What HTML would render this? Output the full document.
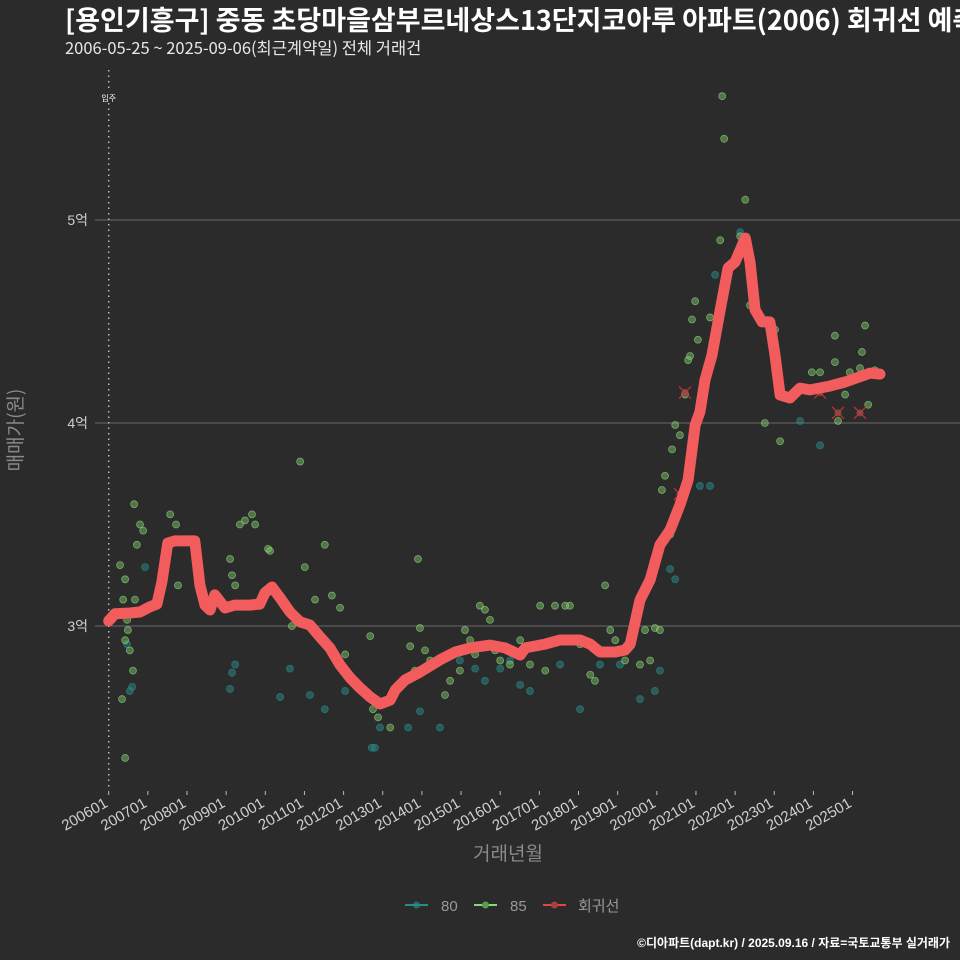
<!DOCTYPE html>
<html><head><meta charset="utf-8">
<style>
html,body{margin:0;padding:0;background:#2b2b2b;}
svg{display:block;font-family:"Liberation Sans","Noto Sans CJK KR",sans-serif;}
</style></head>
<body>
<svg id="chart" width="960" height="960" viewBox="0 0 960 960">
<rect width="960" height="960" fill="#2b2b2b"/>
<text x="65" y="30" fill="#ffffff" font-size="27" font-weight="bold" font-family="'Noto Sans CJK KR',sans-serif">[용인기흥구] 중동 초당마을삼부르네상스13단지코아루 아파트(2006) 회귀선 예측</text>
<text x="65" y="54" fill="#e8e8e8" font-size="16.5" font-family="'Noto Sans CJK KR',sans-serif">2006-05-25 ~ 2025-09-06(최근계약일) 전체 거래건</text>
<g id="grid"></g>
<g id="yaxis"></g>
<g id="xaxis"></g>
<line x1="108.7" y1="70" x2="108.7" y2="790" stroke="#bbbbbb" stroke-width="1.5" stroke-dasharray="1.5,4"/>
<rect x="99" y="92" width="20" height="11" fill="#2b2b2b"/>
<text x="108.7" y="101" fill="#ffffff" font-size="8" text-anchor="middle">입주</text>
<g id="points"></g>
<g id="cancels"></g>
<path id="regline" fill="none" stroke="#f25c5c" stroke-width="11" stroke-linejoin="round" stroke-linecap="round"/>
<text transform="translate(22,430) rotate(-90)" fill="#8a8a8a" font-size="19" text-anchor="middle" font-family="'Noto Sans CJK KR',sans-serif">매매가(원)</text>
<text x="508" y="860" fill="#8a8a8a" font-size="19" text-anchor="middle" font-family="'Noto Sans CJK KR',sans-serif">거래년월</text>
<g>
 <g>
  <line x1="405" y1="905" x2="428" y2="905" stroke="#2a8a88" stroke-width="2"/>
  <circle cx="416.5" cy="905" r="3.5" fill="#2a8a88" opacity="0.7"/>
  <text x="441" y="911" fill="#999" font-size="15">80</text>
 </g>
 <g>
  <line x1="474" y1="905" x2="497" y2="905" stroke="#7fe070" stroke-width="2"/>
  <circle cx="485.5" cy="905" r="3.5" fill="#5c9a4c"/>
  <text x="510" y="911" fill="#999" font-size="15">85</text>
 </g>
 <g>
  <line x1="543" y1="905" x2="566" y2="905" stroke="#e04848" stroke-width="2"/>
  <circle cx="554.5" cy="905" r="3.5" fill="#a84040"/>
  <text x="578" y="911" fill="#999" font-size="15" font-family="'Noto Sans CJK KR',sans-serif">회귀선</text>
 </g>
</g>
<text x="950" y="947" fill="#ffffff" font-size="12" font-weight="bold" text-anchor="end">©디아파트(dapt.kr) / 2025.09.16 / 자료=국토교통부 실거래가</text>
</svg>
<script>
const yTicks=[3,4,5];
const yTickLabels=["3억","4억","5억"];
const xTickYears=[2006,2007,2008,2009,2010,2011,2012,2013,2014,2015,2016,2017,2018,2019,2020,2021,2022,2023,2024,2025];
const xTickLabels=["200601","200701","200801","200901","201001","201101","201201","201301","201401","201501","201601","201701","201801","201901","202001","202101","202201","202301","202401","202501"];
const regYears=[2006.0,2006.16,2006.54,2006.80,2007.05,2007.23,2007.36,2007.51,2007.69,2008.20,2008.33,2008.46,2008.59,2008.71,2008.97,2009.22,2009.61,2009.86,2009.99,2010.17,2010.38,2010.63,2010.89,2011.14,2011.40,2011.65,2011.91,2012.17,2012.42,2012.68,2012.93,2013.19,2013.32,2013.57,2013.95,2014.46,2014.85,2015.23,2015.74,2016.12,2016.51,2016.64,2017.15,2017.53,2018.04,2018.30,2018.55,2018.94,2019.19,2019.32,2019.57,2019.83,2020.08,2020.34,2020.59,2020.80,2020.98,2021.10,2021.23,2021.41,2021.62,2021.82,2022.00,2022.13,2022.26,2022.38,2022.51,2022.69,2022.89,2023.02,2023.15,2023.40,2023.66,2023.91,2024.42,2024.81,2025.45,2025.70];
const regValues=[3.025,3.06,3.064,3.069,3.094,3.108,3.217,3.409,3.419,3.419,3.202,3.103,3.079,3.153,3.089,3.103,3.103,3.108,3.163,3.192,3.138,3.069,3.02,3.005,2.946,2.892,2.808,2.744,2.695,2.65,2.616,2.635,2.685,2.734,2.773,2.833,2.872,2.892,2.906,2.892,2.857,2.892,2.911,2.931,2.931,2.911,2.872,2.872,2.882,2.911,3.128,3.227,3.399,3.473,3.596,3.719,3.99,4.054,4.212,4.335,4.557,4.764,4.793,4.852,4.911,4.793,4.557,4.498,4.498,4.335,4.138,4.123,4.172,4.163,4.182,4.202,4.246,4.241];
const g85Years=[2006.29,2006.42,2006.37,2006.47,2006.54,2006.62,2006.67,2006.42,2006.49,2006.65,2006.72,2006.80,2006.88,2006.34,2006.42,2007.57,2007.72,2007.77,2009.10,2009.15,2009.23,2009.35,2009.48,2009.66,2009.74,2010.07,2010.12,2010.89,2010.68,2011.01,2011.27,2011.52,2011.70,2011.91,2012.04,2012.68,2012.75,2012.88,2013.19,2013.70,2013.90,2013.82,2013.95,2014.08,2014.21,2014.46,2014.59,2014.72,2014.97,2015.10,2015.23,2015.36,2015.48,2015.61,2015.74,2015.87,2016.00,2016.25,2016.51,2016.76,2017.02,2017.15,2017.40,2017.53,2017.66,2017.78,2018.04,2018.30,2018.42,2018.68,2018.81,2018.94,2019.19,2019.57,2019.70,2019.83,2019.95,2020.08,2020.13,2020.21,2020.34,2020.39,2020.47,2020.59,2020.72,2020.80,2020.85,2020.90,2020.98,2021.05,2021.36,2021.56,2021.62,2021.67,2021.72,2022.13,2022.26,2022.38,2022.76,2023.02,2023.15,2023.96,2024.04,2024.17,2024.55,2024.55,2024.63,2024.81,2024.93,2025.19,2025.24,2025.32,2025.40,2025.57];
const g85Values=[3.30,3.23,3.13,3.03,2.88,2.78,3.13,2.93,2.98,3.60,3.40,3.50,3.47,2.64,2.35,3.55,3.50,3.20,3.33,3.25,3.20,3.50,3.52,3.55,3.50,3.38,3.37,3.81,3.00,3.29,3.13,3.40,3.15,3.09,2.86,2.95,2.59,2.55,2.50,2.90,3.33,2.78,2.99,2.88,2.83,2.84,2.66,2.73,2.78,2.98,2.93,2.86,3.10,3.08,3.03,2.88,2.83,2.81,2.93,2.81,3.10,2.78,3.10,2.93,3.10,3.10,2.91,2.76,2.73,3.20,2.98,2.93,2.83,2.81,2.98,2.83,2.99,2.98,3.67,3.74,3.45,3.87,3.99,3.94,4.14,4.31,4.33,4.51,4.60,4.41,4.52,4.51,4.90,5.61,5.40,4.92,5.10,4.58,4.00,4.46,3.91,4.25,4.17,4.25,4.43,4.30,4.01,4.14,4.25,4.27,4.35,4.48,4.09,4.26];
const g80Years=[2006.47,2006.54,2006.60,2006.93,2009.10,2009.15,2009.23,2010.38,2010.63,2011.14,2011.52,2012.04,2012.72,2012.80,2012.93,2013.65,2013.95,2014.46,2014.97,2015.36,2015.61,2016.00,2016.25,2016.51,2016.76,2017.53,2018.04,2018.55,2019.06,2019.57,2019.95,2020.08,2020.34,2020.47,2021.10,2021.36,2021.49,2022.13,2023.66,2024.17];
const g80Values=[2.91,2.68,2.70,3.29,2.69,2.77,2.81,2.65,2.79,2.66,2.59,2.68,2.40,2.40,2.50,2.50,2.58,2.50,2.83,2.79,2.73,2.79,2.83,2.71,2.68,2.81,2.59,2.81,2.81,2.64,2.68,2.78,3.28,3.23,3.69,3.69,4.73,4.94,4.01,3.89];
const cancelYears=[2020.72,2020.59,2024.17,2024.63,2025.19];
const cancelValues=[4.15,3.65,4.15,4.05,4.05];

const NS="http://www.w3.org/2000/svg";
function xS(t){return 108.7+(t-2006)*39.15;}
function yS(v){return 626-(v-3)*203;}
function mk(tag,attrs,parent){const e=document.createElementNS(NS,tag);for(const k in attrs)e.setAttribute(k,attrs[k]);parent.appendChild(e);return e;}

const grid=document.getElementById('grid'),ya=document.getElementById('yaxis'),xa=document.getElementById('xaxis');
yTicks.forEach((v,i)=>{
  const l=mk('line',{x1:95,x2:960,y1:yS(v),y2:yS(v),stroke:'#6a6a6a','stroke-width':1},grid);
  
  
  const t=mk('text',{x:88,y:yS(v)+5,fill:'#cfcfcf','font-size':14,'text-anchor':'end'},ya);
  t.textContent=yTickLabels[i];
  
  
});
xTickYears.forEach((yr,i)=>{
  const x=xS(yr);
  const tk=mk('line',{x1:x,x2:x,y1:791,y2:795,stroke:'#bbbbbb','stroke-width':1},xa);
  
  
  const t=mk('text',{x:x,y:806,fill:'#d0d0d0','font-size':15,'text-anchor':'end',transform:`rotate(-30 ${x} 806)`},xa);
  t.textContent=xTickLabels[i];
  
  
});
const pts=document.getElementById('points');
g80Years.forEach((yr,i)=>{
  const c=mk('circle',{cx:xS(yr),cy:yS(g80Values[i]),r:3.5,fill:'#2a8a88','fill-opacity':0.5,stroke:'#2a8a88','stroke-opacity':0.7,'stroke-width':0.8},pts);
  
  
});
g85Years.forEach((yr,i)=>{
  const c=mk('circle',{cx:xS(yr),cy:yS(g85Values[i]),r:3.5,fill:'#7fd36a','fill-opacity':0.45,stroke:'#9fe08a','stroke-opacity':0.6,'stroke-width':0.8},pts);
  
  
});
const cn=document.getElementById('cancels');
cancelYears.forEach((yr,i)=>{
  const x=xS(yr),y=yS(cancelValues[i]);
  const p=mk('path',{d:`M${x-6},${y-6}L${x+6},${y+6}M${x-6},${y+6}L${x+6},${y-6}`,stroke:'#c03030','stroke-width':1.3,fill:'none'},cn);
  
  
  const c=mk('circle',{cx:x,cy:y,r:3.5,fill:'#a04848','fill-opacity':0.8},cn);
  
  
});
document.getElementById('regline').setAttribute('d',regYears.map((yr,i)=>(i?'L':'M')+xS(yr).toFixed(1)+','+yS(regValues[i]).toFixed(1)).join(''));
</script>
</body></html>
